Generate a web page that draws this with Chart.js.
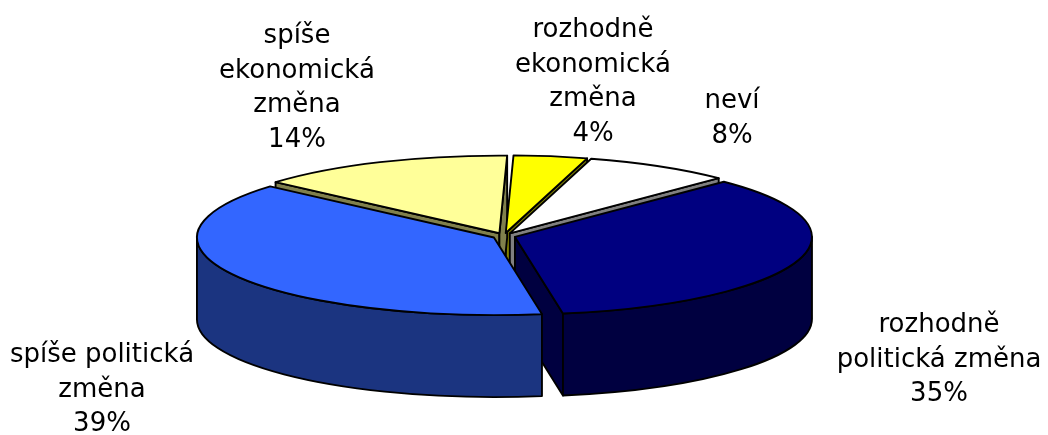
<!DOCTYPE html>
<html>
<head>
<meta charset="utf-8">
<script src="https://cdn.jsdelivr.net/npm/chart.js@4"></script>
<style>
  body { margin: 0; background: #fff; }
</style>
</head>
<body>
<canvas id="pie" width="1048" height="435"></canvas>
<script>
const categories = ['rozhodně ekonomická změna', 'neví', 'rozhodně politická změna', 'spíše politická změna', 'spíše ekonomická změna'];
const shares = [4, 8, 35, 39, 14];
const labelLines = [
    ['rozhodně', 'ekonomická', 'změna'],
    ['neví'],
    ['rozhodně', 'politická změna'],
    ['spíše politická', 'změna'],
    ['spíše', 'ekonomická', 'změna']
];

const topColors = ['#FFFF00', '#FFFFFF', '#000080', '#3366FF', '#FFFF99'];
const sideColors = ['#808000', '#808080', '#000040', '#1B3480', '#80804C'];

// fake 3D: squash the pie, then extrude walls below it
const pie3d = {
    id: 'pie3d',
    beforeDatasetsDraw: (chart, args, opts) => {
        const ctx = chart.ctx;
        const k = opts.tilt, depth = opts.depth;
        const slices = chart.getDatasetMeta(0).data.map((arc, i) => {
            const p = arc.getProps(['x', 'y', 'startAngle', 'endAngle', 'outerRadius'], true);
            const off = arc.options.offset || 0;
            const mid = (p.startAngle + p.endAngle) / 2;
            return {
                i, s: p.startAngle, e: p.endAngle, r: p.outerRadius, mid,
                cx: p.x + Math.cos(mid) * off,
                cy: p.y + Math.sin(mid) * off * k
            };
        });
        const order = slices.slice().sort((a, b) => Math.sin(a.mid) - Math.sin(b.mid));

        ctx.save();
        ctx.lineWidth = opts.lineWidth;
        ctx.strokeStyle = '#000';
        ctx.lineJoin = 'round';

        const radial = (sl, a) => {
            const x = sl.cx + Math.cos(a) * sl.r, y = sl.cy + Math.sin(a) * sl.r * k;
            ctx.beginPath();
            ctx.moveTo(sl.cx, sl.cy);
            ctx.lineTo(x, y);
            ctx.lineTo(x, y + depth);
            ctx.lineTo(sl.cx, sl.cy + depth);
            ctx.closePath();
            ctx.fillStyle = sideColors[sl.i];
            ctx.fill();
            ctx.stroke();
        };

        order.forEach(sl => {
            if (Math.cos(sl.s) < 0) radial(sl, sl.s);
            if (Math.cos(sl.e) > 0) radial(sl, sl.e);
            const a0 = Math.max(sl.s, 0), a1 = Math.min(sl.e, Math.PI);
            if (a0 < a1) {
                ctx.beginPath();
                ctx.ellipse(sl.cx, sl.cy, sl.r, sl.r * k, 0, a0, a1);
                ctx.ellipse(sl.cx, sl.cy + depth, sl.r, sl.r * k, 0, a1, a0, true);
                ctx.closePath();
                ctx.fillStyle = sideColors[sl.i];
                ctx.fill();
                ctx.stroke();
            }
        });

        order.forEach(sl => {
            ctx.beginPath();
            ctx.moveTo(sl.cx, sl.cy);
            ctx.ellipse(sl.cx, sl.cy, sl.r, sl.r * k, 0, sl.s, sl.e);
            ctx.closePath();
            ctx.fillStyle = topColors[sl.i];
            ctx.fill();
            ctx.stroke();
        });
        ctx.restore();
        return false;
    },
    afterDraw: (chart, args, opts) => {
        const ctx = chart.ctx;
        ctx.save();
        ctx.font = opts.font;
        ctx.fillStyle = '#000';
        ctx.textAlign = 'center';
        ctx.textBaseline = 'alphabetic';
        labelLines.forEach((lines, i) => {
            const [x, y] = opts.labelPos[i];
            lines.concat([shares[i] + '%']).forEach((t, j) => {
                ctx.fillText(t, x, y + j * opts.lineHeight);
            });
        });
        ctx.restore();
    }
};

new Chart(document.getElementById('pie'), {
    type: 'pie',
    data: {
        labels: categories,
        datasets: [{
            data: shares,
            backgroundColor: topColors,
            borderWidth: 0,
            offset: 11.5
        }]
    },
    options: {
        responsive: false,
        animation: false,
        events: [],
        rotation: 1.5,
        radius: 297,
        layout: { padding: { left: 0, right: 40, top: 37, bottom: 0 } },
        plugins: {
            legend: { display: false },
            tooltip: { enabled: false },
            pie3d: {
                tilt: 0.2615,
                depth: 82,
                lineWidth: 1.9,
                font: '26px "DejaVu Sans"',
                lineHeight: 34.5,
                // first-line baseline of each label
                labelPos: [[593, 37], [732, 108], [939, 332], [102, 362], [297, 43]]
            }
        }
    },
    plugins: [pie3d]
});
</script>
</body>
</html>
